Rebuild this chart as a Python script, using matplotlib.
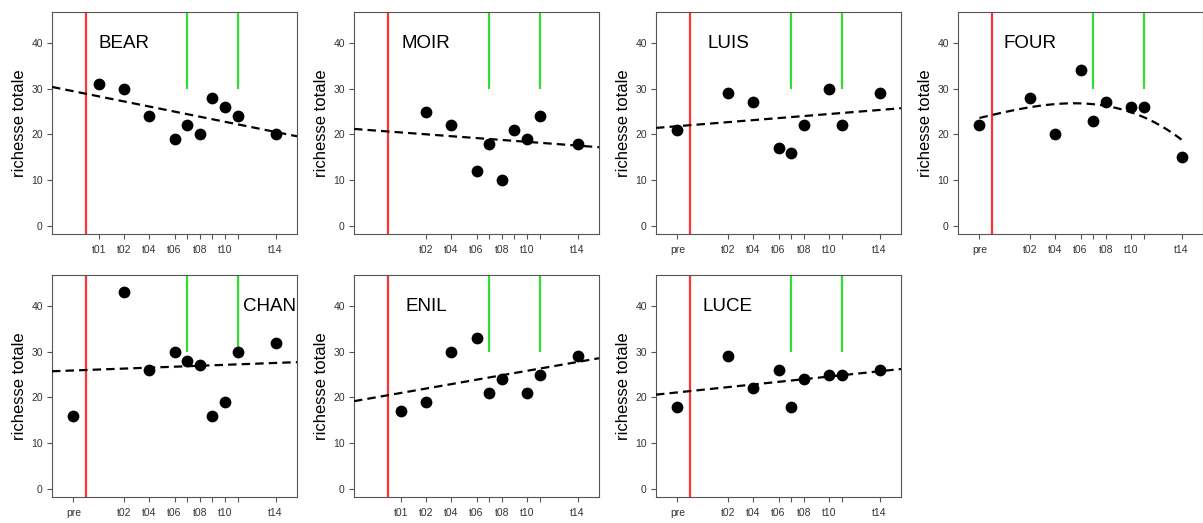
import matplotlib
matplotlib.use("Agg")
import matplotlib.pyplot as plt
import numpy as np

plt.rcParams['font.family'] = ['Liberation Sans', 'DejaVu Sans']

# sampling occasions and their position on the time axis
time_labels = ["pre", "t01", "t02", "t04", "t06", "t07", "t08", "t09", "t10", "t11", "t14"]
time_pos = [0, 2, 4, 6, 8, 9, 10, 11, 12, 13, 16]
shown_labels = ["pre", "t01", "t02", "t04", "t06", "t08", "t10", "t14"]

sites = ["BEAR", "MOIR", "LUIS", "FOUR", "CHAN", "ENIL", "LUCE"]

times_BEAR = ["t01", "t02", "t04", "t06", "t07", "t08", "t09", "t10", "t11", "t14"]
rich_BEAR = [31, 30, 24, 19, 22, 20, 28, 26, 24, 20]
times_MOIR = ["t02", "t04", "t06", "t07", "t08", "t09", "t10", "t11", "t14"]
rich_MOIR = [25, 22, 12, 18, 10, 21, 19, 24, 18]
times_LUIS = ["pre", "t02", "t04", "t06", "t07", "t08", "t10", "t11", "t14"]
rich_LUIS = [21, 29, 27, 17, 16, 22, 30, 22, 29]
times_FOUR = ["pre", "t02", "t04", "t06", "t07", "t08", "t10", "t11", "t14"]
rich_FOUR = [22, 28, 20, 34, 23, 27, 26, 26, 15]
times_CHAN = ["pre", "t02", "t04", "t06", "t07", "t08", "t09", "t10", "t11", "t14"]
rich_CHAN = [16, 43, 26, 30, 28, 27, 16, 19, 30, 32]
times_ENIL = ["t01", "t02", "t04", "t06", "t07", "t08", "t10", "t11", "t14"]
rich_ENIL = [17, 19, 30, 33, 21, 24, 21, 25, 29]
times_LUCE = ["pre", "t02", "t04", "t06", "t07", "t08", "t10", "t11", "t14"]
rich_LUCE = [18, 29, 22, 26, 18, 24, 25, 25, 26]

# fitted trends (value at "pre" position, slope per unit)
trend_intercept = [29.45, 20.85, 21.8, None, 25.9, 20.0, 21.1]
trend_slope = [-0.557, -0.206, 0.222, None, 0.103, 0.485, 0.289]
# FOUR: polynomial trend coefficients (highest degree first)
four_poly = [-0.003325, -0.0072, 0.6695, 23.6]

impact_pos = 1          # red line
event_pos = [9, 13]     # green lines
event_level = 30

label_x = [4, 4, 4, 4, 15.5, 4, 4]
label_y = 40

data = {
    "BEAR": (times_BEAR, rich_BEAR), "MOIR": (times_MOIR, rich_MOIR),
    "LUIS": (times_LUIS, rich_LUIS), "FOUR": (times_FOUR, rich_FOUR),
    "CHAN": (times_CHAN, rich_CHAN), "ENIL": (times_ENIL, rich_ENIL),
    "LUCE": (times_LUCE, rich_LUCE),
}
pos_of = dict(zip(time_labels, time_pos))

W, H = 1203, 523
fig = plt.figure(figsize=(W / 100, H / 100), dpi=100)

col_left = [52, 354, 656, 958]
row_top = [12, 275]
ax_w, ax_h = 245, 222

XLIM = (-1.7, 17.7)
YLIM = (-1.8, 46.8)
grey = "#555555"
DASH = (3.8, 2.3)

for i, site in enumerate(sites):
    r, c = divmod(i, 4)
    left = col_left[c]
    top = row_top[r]
    ax = fig.add_axes([left / W, (H - top - ax_h) / H, ax_w / W, ax_h / H])
    times, vals = data[site]
    xs = [pos_of[t] for t in times]

    ax.axvline(impact_pos, color="#ff3333", lw=1.6, zorder=2)
    ax.vlines(event_pos, event_level, 60, color="#33dd33", lw=1.6, zorder=2)

    if trend_slope[i] is not None:
        xx = np.array(XLIM)
        yy = trend_intercept[i] + trend_slope[i] * xx
        ax.plot(xx, yy, color="black", lw=1.6, dashes=DASH, zorder=3)
    else:
        xx = np.linspace(0, 16, 100)
        ax.plot(xx, np.polyval(four_poly, xx), color="black", lw=1.6,
                dashes=DASH, zorder=3)

    ax.scatter(xs, vals, s=72, color="black", zorder=4, linewidths=0)

    ax.text(label_x[i], label_y, site, ha="center", va="center", fontsize=13.5,
            color="black")

    ax.set_xlim(XLIM)
    ax.set_ylim(YLIM)
    ax.set_yticks([0, 10, 20, 30, 40])
    ax.set_xticks(xs)
    ax.set_xticklabels([t if t in shown_labels else "" for t in times])
    ax.tick_params(axis="both", direction="out", length=3.6, width=0.8,
                   color=grey, labelcolor="#333333", labelsize=7.5, pad=3)
    ax.tick_params(axis="x", pad=4)
    for sp in ax.spines.values():
        sp.set_color(grey)
        sp.set_linewidth(0.8)
    ax.set_ylabel("richesse totale", fontsize=12, labelpad=3)

fig.savefig("out.png", dpi=100)
